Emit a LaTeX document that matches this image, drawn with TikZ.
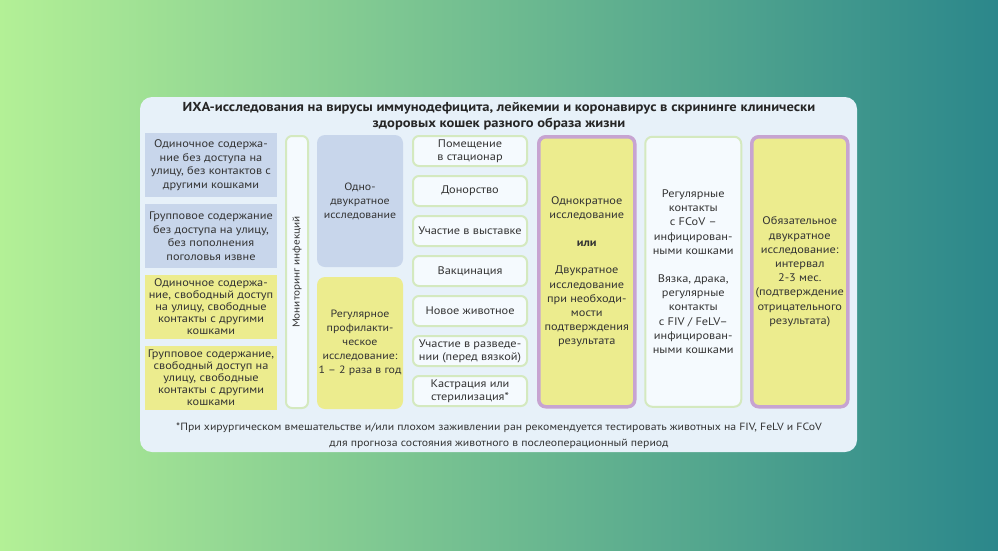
\documentclass[tikz,border=0pt]{standalone}
\usepackage{fontspec}
\setmainfont[FakeStretch=1.12]{PT Sans}
\usetikzlibrary{positioning}
\definecolor{bgGreen}{HTML}{B3F096}
\definecolor{bgTeal}{HTML}{2B878B}
\definecolor{cardFill}{HTML}{E7F1F9}
\definecolor{boxBlue}{HTML}{C8D6EB}
\definecolor{boxYellow}{HTML}{ECEC8E}
\definecolor{linePurple}{HTML}{C7A4D1}
\definecolor{lineGreen}{HTML}{D4E9BF}
\definecolor{paleFill}{HTML}{F5FAFE}
\definecolor{textGrey}{HTML}{333333}

\begin{document}
\begin{tikzpicture}[x=1pt, y=-1pt, text=textGrey,
    font=\fontsize{11}{13.5}\selectfont,
    box/.style={inner sep=0pt, outer sep=0pt, align=center},
    leftbox/.style={box, minimum width=132pt, minimum height=64pt},
    tight/.style={font=\fontsize{11}{12}\selectfont},
    colbox/.style={box, rounded corners=8pt, minimum width=86pt, minimum height=132pt,
      font=\fontsize{10.6}{14}\selectfont},
    eventbox/.style={box, fill=paleFill, draw=lineGreen, line width=2pt, rounded corners=6pt,
      minimum width=114pt, minimum height=30pt, font=\fontsize{11}{13}\selectfont},
    tallbox/.style={box, line width=3.5pt, rounded corners=7pt, minimum width=96pt, minimum height=270pt,
      font=\fontsize{11}{14.2}\selectfont}]
    % background and card
    \shade[left color=bgGreen, right color=bgTeal] (0,0) rectangle (998,550);
    \fill[cardFill, rounded corners=12pt] (140,97) rectangle (857,452);
    \node[font=\fontsize{13}{16}\selectfont\bfseries, text=black!85, align=center] (title) at (499,116)
      {ИХА-исследования на вирусы иммунодефицита, лейкемии и коронавирус в скрининге клинически\\
       здоровых кошек разного образа жизни};
    % housing conditions
    \node[leftbox, fill=boxBlue, anchor=north west] (h1) at (145,133)
      {Одиночное содержа-\\ние без доступа на\\улицу, без контактов с\\другими кошками};
    \node[leftbox, fill=boxBlue, below=7pt of h1] (h2)
      {Групповое содержание\\без доступа на улицу,\\без пополнения\\поголовья извне};
    \node[leftbox, tight, fill=boxYellow, below=7pt of h2] (h3)
      {Одиночное содержа-\\ние, свободный доступ\\на улицу, свободные\\контакты с другими\\кошками};
    \node[leftbox, tight, fill=boxYellow, below=7pt of h3] (h4)
      {Групповое содержание,\\свободный доступ на\\улицу, свободные\\контакты с другими\\кошками};
    % monitoring
    \node[box, fill=paleFill, draw=lineGreen, line width=2pt, rounded corners=6pt,
      minimum width=22pt, minimum height=272pt, anchor=north west] (mon) at (286,136) {};
    \node[rotate=90, font=\fontsize{10}{12}\selectfont] (monText) at (mon.center) {Мониторинг инфекций};
    \node[colbox, fill=boxBlue, anchor=north west] (once) at (317,135)
      {Одно-\\двукратное\\исследование};
    \node[colbox, fill=boxYellow, below=10pt of once] (regular)
      {Регулярное\\профилакти-\\ческое\\исследование:\\1 – 2 раза в год};
    % events
    \node[eventbox, anchor=north west] (m1) at (413,136) {Помещение\\в стационар};
    \node[eventbox, below=10pt of m1] (m2) {Донорство};
    \node[eventbox, below=10pt of m2] (m3) {Участие в выставке};
    \node[eventbox, below=10pt of m3] (m4) {Вакцинация};
    \node[eventbox, below=10pt of m4] (m5) {Новое животное};
    \node[eventbox, below=10pt of m5] (m6) {Участие в разведе-\\нии (перед вязкой)};
    \node[eventbox, below=10pt of m6] (m7) {Кастрация или\\стерилизация*};
    % recommendations
    \node[tallbox, fill=boxYellow, draw=linePurple, anchor=north west] (r1) at (538.75,136.75)
      {Однократное\\исследование\\[14pt]\textbf{или}\\[13pt]Двукратное\\исследование\\при необходи-\\мости\\подтверждения\\результата};
    \node[tallbox, fill=paleFill, draw=lineGreen, line width=2pt, right=10.5pt of r1] (r2)
      {Регулярные\\контакты\\с FCoV –\\инфицирован-\\ными кошками\\[14pt]Вязка, драка,\\регулярные\\контакты\\с FIV / FeLV–\\инфицирован-\\ными кошками};
    \node[tallbox, fill=boxYellow, draw=linePurple, right=10.5pt of r2] (r3)
      {Обязательное\\двукратное\\исследование:\\интервал\\2-3 мес.\\(подтверждение\\отрицательного\\результата)};
    % footnote
    \node[font=\fontsize{10.5}{16}\selectfont, align=center] (note) at (499,436)
      {*При хирургическом вмешательстве и/или плохом заживлении ран рекомендуется тестировать животных на FIV, FeLV и FCoV\\
       для прогноза состояния животного в послеоперационный период};
\end{tikzpicture}
\end{document}
